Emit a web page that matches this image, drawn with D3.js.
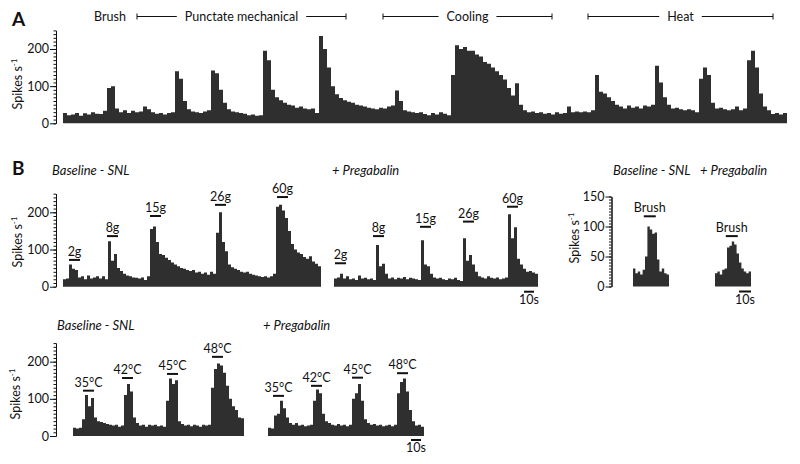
<!DOCTYPE html>
<html><head><meta charset="utf-8">
<script src="https://cdn.jsdelivr.net/npm/d3@7"></script>
<style>
body{margin:0;background:#fff}
svg{display:block}
text{font-family:Lato,'DejaVu Sans',sans-serif;fill:#111}
</style>
</head><body>
<svg id="c" width="800" height="464"></svg>
<script>
// ---------------- DATA ----------------
// Panel A: continuous recording, spikes/s per bin
const aBinSec = 4;
const aRate = [28,22,24,28,20,27,24,30,26,25, 34,95,100,40,30,35,28,34,30,32,
  45,38,30,26,28,24,28,30,140,120, 60,38,32,30,28,32,35,142,135,90,
  55,38,32,30,28,26,22,24,20,22, 195,170,90,70,62,55,50,48,42,45,
  40,38,40,28,235,200,150,100,78,68, 62,58,55,50,48,45,42,40,38,42,
  40,45,48,88,60,35,32,30,28,30, 25,22,28,24,30,26,22,130,210,200,
  205,195,195,185,180,165,160,150,140,130, 118,95,75,108,50,35,30,32,28,30,
  26,28,24,30,26,28,45,30,32,30, 32,30,35,130,85,80,70,60,50,45,
  40,48,42,45,40,48,45,50,155,110, 70,50,40,42,38,35,38,35,30,120,
  150,130,55,40,42,38,35,38,45,35, 40,170,195,150,80,45,35,25,28,24, 28];
const aPeriodLabels = ["Punctate mechanical", "Cooling", "Heat"];
const aPeriodStart = [74, 320, 525];
const aPeriodEnd = [283, 489, 710];
const aBrushLabel = "Brush";
const aBrushTime = 47;

// Panel B: punctate mechanical (3 s bins)
const mechBinSec = 3;
const mechBaseRate = [20,22,60,48,45,25,28,20,30,22, 25,28,22,28,20,122,70,88,50,42,
  35,30,28,25,24,22,25,18,28,155, 162,120,88,85,78,72,65,60,55,50,
  48,45,42,45,38,40,35,38,32,40, 35,145,200,120,95,60,52,48,45,40,
  38,40,35,32,30,28,26,28,25,28, 35,215,220,205,185,150,115,100,92,88,
  80,75,82,68,62,55];
const mechPregRate = [22,25,35,22,28,20,22,18,30,22, 24,20,22,18,112,55,62,35,22,25,
  20,24,22,26,20,24,22,20,18,125, 60,55,35,25,22,24,20,18,22,20,
  24,18,15,130,70,85,60,40,28,25, 22,28,24,22,25,20,22,25,195,130,
  160,75,60,48,40,42,38,35];
const mechLabels = ["2g", "8g", "15g", "26g", "60g"];
const mechBaseOnset = [6, 44, 87, 152, 214];
const mechPregOnset = [1, 39, 86, 129, 173];
const mechBaseBarLevel = [72, 136, 190, 220, 241];
const mechPregBarLevel = [63, 136, 161, 175, 215];
const stimDur = 11;

// Panel B: brush (2 s bins)
const brushBinSec = 2;
const brushBaseRate = [30,22,25,20,28,50,100,95,88,90,45,25,30,22,20];
const brushPregRate = [22,25,20,28,30,65,68,75,70,55,40,30,25,22,25];
const brushLabel = "Brush";
const brushOnset = [9, 9];
const brushBarLevel = [117, 84];
const brushDur = 10;

// Panel B: heat (3 s bins)
const heatBinSec = 3;
const heatBaseRate = [22,20,22,45,110,80,102,50,40,38, 35,32,30,28,30,25,28,110,140,120,
  50,35,28,30,25,30,28,30,26,28, 25,95,155,140,150,40,32,28,30,26,
  30,28,25,30,28,30,130,180,195,190, 170,135,100,80,70,50,48];
const heatPregRate = [22,20,55,60,95,75,50,35,30,35, 28,30,26,28,30,95,125,115,60,40,
  35,30,28,32,28,30,26,30,100,115, 140,95,45,35,30,32,28,30,26,28,
  30,26,30,115,145,155,120,70,40,28, 30,25];
const heatLabels = ["35°C", "42°C", "45°C", "48°C"];
const heatBaseOnset = [10, 49, 94, 139];
const heatPregOnset = [5, 43, 84, 129];
const heatBaseBarLevel = [122, 156, 167, 213];
const heatPregBarLevel = [108, 135, 157, 169];

const yTicksMajor = [0, 100, 200];
const yTicksBrush = [0, 50, 100, 150];
const scaleBarSec = 10;

// ---------------- DRAWING ----------------
const svg = d3.select("#c");
const FILL = "#2f2f2f";

function hist(rate, binSec, x, y) {
  const pts = rate.map((v, i) => [i * binSec, v]);
  pts.push([rate.length * binSec, rate[rate.length - 1]]);
  svg.append("path").datum(pts).attr("fill", FILL)
    .attr("d", d3.area().curve(d3.curveStepAfter)
      .x(d => x(d[0])).y0(y(0)).y1(d => y(d[1])));
}

function yAxis(y, xPos, majors, minorStep) {
  const max = y.domain()[1];
  const gMin = svg.append("g").attr("transform", `translate(${xPos},0)`)
    .call(d3.axisLeft(y).tickValues(d3.range(0, max + 0.1, minorStep)).tickSize(2.5).tickFormat("").tickSizeOuter(0));
  const gMaj = svg.append("g").attr("transform", `translate(${xPos},0)`)
    .call(d3.axisLeft(y).tickValues(majors).tickSize(6).tickPadding(1).tickSizeOuter(0));
  [gMin, gMaj].forEach(g => {
    g.selectAll("path,line").attr("stroke", "#111").attr("stroke-width", 1);
    g.selectAll("text").attr("font-size", 12.5).attr("font-family", "Lato, sans-serif").attr("fill", "#111");
  });
}

function yTitle(cx, cy) {
  const t = svg.append("text").attr("transform", `translate(${cx},${cy}) rotate(-90)`)
    .attr("text-anchor", "middle").attr("font-size", 12.5);
  t.append("tspan").text("Spikes s");
  t.append("tspan").attr("dy", -5).attr("font-size", 8).text("-1");
}

function stims(labels, onsets, levels, dur, x, y) {
  labels.forEach((lab, i) => {
    const x0 = x(onsets[i]), x1 = x(onsets[i] + dur), yy = y(levels[i]);
    svg.append("line").attr("x1", x0).attr("x2", x1).attr("y1", yy).attr("y2", yy)
      .attr("stroke", "#111").attr("stroke-width", 2);
    svg.append("text").attr("x", (x0 + x1) / 2).attr("y", yy - 4)
      .attr("text-anchor", "middle").attr("font-size", 12.5).text(lab);
  });
}

function scaleBar(x, t0, yBase) {
  const x0 = x(t0), x1 = x(t0 + scaleBarSec);
  svg.append("line").attr("x1", x0).attr("x2", x1).attr("y1", yBase + 5).attr("y2", yBase + 5)
    .attr("stroke", "#111").attr("stroke-width", 2);
  svg.append("text").attr("x", (x0 + x1) / 2).attr("y", yBase + 17)
    .attr("text-anchor", "middle").attr("font-size", 12.5).text(scaleBarSec + "s");
}

function title(x, y, txt, italic) {
  svg.append("text").attr("x", x).attr("y", y).attr("font-size", 13)
    .attr("font-style", italic ? "italic" : "normal").text(txt);
}

function panelLetter(x, y, txt) {
  svg.append("text").attr("x", x).attr("y", y).attr("font-size", 19)
    .attr("font-weight", "bold").attr("font-family", "'Open Sans', Lato, sans-serif").text(txt);
}

// ---- Panel A ----
const xA = d3.scaleLinear().domain([0, aRate.length * aBinSec]).range([63, 63 + aRate.length * aBinSec]);
const yA = d3.scaleLinear().domain([0, 250]).range([123.3, 30.4]);
hist(aRate, aBinSec, xA, yA);
yAxis(yA, 56, yTicksMajor, 10);
yTitle(22, 84);
panelLetter(12, 26, "A");
svg.append("text").attr("x", xA(aBrushTime)).attr("y", 21).attr("text-anchor", "middle")
  .attr("font-size", 12.5).text(aBrushLabel);
aPeriodLabels.forEach((lab, i) => {
  const x0 = xA(aPeriodStart[i]), x1 = xA(aPeriodEnd[i]), cx = (x0 + x1) / 2, ly = 16.5;
  const t = svg.append("text").attr("x", cx).attr("y", 21).attr("text-anchor", "middle")
    .attr("font-size", 12.5).text(lab);
  const w = t.node().getComputedTextLength();
  const gap = w / 2 + 8;
  const g = svg.append("g").attr("stroke", "#111").attr("stroke-width", 1);
  g.append("line").attr("x1", x0).attr("x2", cx - gap).attr("y1", ly).attr("y2", ly);
  g.append("line").attr("x1", cx + gap).attr("x2", x1).attr("y1", ly).attr("y2", ly);
  g.append("line").attr("x1", x0).attr("x2", x0).attr("y1", ly - 3).attr("y2", ly + 3);
  g.append("line").attr("x1", x1).attr("x2", x1).attr("y1", ly - 3).attr("y2", ly + 3);
});

// ---- Panel B: mechanical ----
panelLetter(12, 175, "B");
const yB = d3.scaleLinear().domain([0, 250]).range([286.7, 193.7]);
const xB1 = d3.scaleLinear().domain([0, mechBaseRate.length * mechBinSec]).range([63, 63 + mechBaseRate.length * mechBinSec]);
const xB2 = d3.scaleLinear().domain([0, mechPregRate.length * mechBinSec]).range([334, 334 + mechPregRate.length * mechBinSec]);
hist(mechBaseRate, mechBinSec, xB1, yB);
hist(mechPregRate, mechBinSec, xB2, yB);
yAxis(yB, 56, yTicksMajor, 10);
yTitle(22, 242);
title(52, 175, "Baseline - SNL", true);
title(332, 175, "+ Pregabalin", true);
stims(mechLabels, mechBaseOnset, mechBaseBarLevel, stimDur, xB1, yB);
stims(mechLabels, mechPregOnset, mechPregBarLevel, stimDur, xB2, yB);
scaleBar(xB2, 190, yB(0));

// ---- Panel B: brush ----
const yBr = d3.scaleLinear().domain([0, 150]).range([286.5, 196.5]);
const xBr1 = d3.scaleLinear().domain([0, brushBaseRate.length * brushBinSec]).range([633, 633 + brushBaseRate.length * brushBinSec * 1.2]);
const xBr2 = d3.scaleLinear().domain([0, brushPregRate.length * brushBinSec]).range([715, 715 + brushPregRate.length * brushBinSec * 1.2]);
hist(brushBaseRate, brushBinSec, xBr1, yBr);
hist(brushPregRate, brushBinSec, xBr2, yBr);
yAxis(yBr, 611.5, yTicksBrush, 5);
yTitle(579, 238);
title(613, 175, "Baseline - SNL", true);
title(700, 175, "+ Pregabalin", true);
stims([brushLabel], [brushOnset[0]], [brushBarLevel[0]], brushDur, xBr1, yBr);
stims([brushLabel], [brushOnset[1]], [brushBarLevel[1]], brushDur, xBr2, yBr);
scaleBar(xBr2, 20, yBr(0));

// ---- Panel B: heat ----
const yT = d3.scaleLinear().domain([0, 250]).range([436, 343.1]);
const xT1 = d3.scaleLinear().domain([0, heatBaseRate.length * heatBinSec]).range([73, 73 + heatBaseRate.length * heatBinSec]);
const xT2 = d3.scaleLinear().domain([0, heatPregRate.length * heatBinSec]).range([268, 268 + heatPregRate.length * heatBinSec]);
hist(heatBaseRate, heatBinSec, xT1, yT);
hist(heatPregRate, heatBinSec, xT2, yT);
yAxis(yT, 56, yTicksMajor, 10);
yTitle(20, 394);
title(57, 330, "Baseline - SNL", true);
title(263, 330, "+ Pregabalin", true);
stims(heatLabels, heatBaseOnset, heatBaseBarLevel, stimDur, xT1, yT);
stims(heatLabels, heatPregOnset, heatPregBarLevel, stimDur, xT2, yT);
scaleBar(xT2, 143, yT(0) - 1);
</script>
</body></html>
